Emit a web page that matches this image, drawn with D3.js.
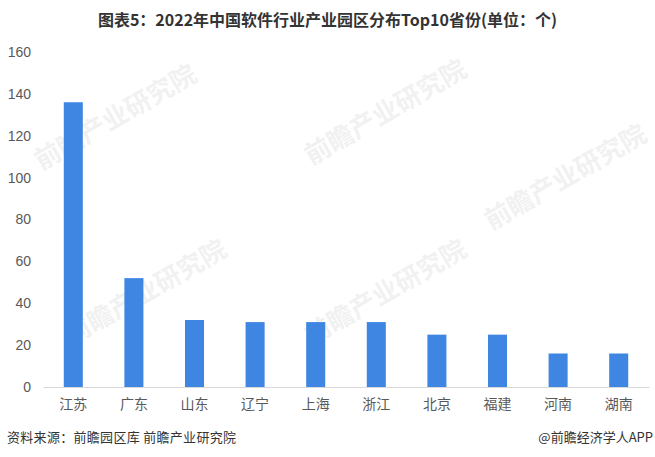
<html>
<head>
  <meta charset="utf-8">
  <title>软件产业园区分布</title>
</head>
<style>
  body {
    padding: 0em;
    margin: 0em;
    background-color: #fff;
  }
  text {
    font-family: "Noto Sans CJK SC", "Liberation Sans", sans-serif;
  }
</style>
<body>
  <div id="chart"></div>
</body>
<script src="https://cdn.jsdelivr.net/npm/d3@7"></script>
<script>
  // 省份 / 园区数量（个）
  const provinces = ["江苏", "广东", "山东", "辽宁", "上海", "浙江", "北京", "福建", "河南", "湖南"]
  const parks = [136, 52, 32, 31, 31, 31, 25, 25, 16, 16]
  const yTicks = [0, 20, 40, 60, 80, 100, 120, 140, 160]

  const width = 655
  const height = 457
  const svg = d3.select("#chart").append("svg")
    .attr("width", width)
    .attr("height", height)

  const x = d3.scaleBand()
    .domain(provinces)
    .range([43, 649])
    .paddingInner(0.686)
    .paddingOuter(0.343)

  const y = d3.scaleLinear()
    .domain([0, 160])
    .range([387, 52])

  // 水印（うすい）
  const marks = [[120, 125], [390, 120], [570, 185], [150, 300], [390, 300]]
  svg.selectAll("text.wm").data(marks).join("text")
    .attr("class", "wm")
    .attr("transform", d => `translate(${d[0]},${d[1]}) rotate(-30)`)
    .attr("text-anchor", "middle")
    .attr("fill", "#000")
    .attr("opacity", 0.05)
    .attr("style", "font-size: 26px; font-weight: bold")
    .text("前瞻产业研究院")

  //タイトル
  svg.append("text")
    .attr("x", width / 2)
    .attr("y", 26)
    .attr("text-anchor", "middle")
    .attr("fill", "#333")
    .attr("style", "font-size: 16px; font-weight: bold")
    .text("图表5：2022年中国软件行业产业园区分布Top10省份(单位：个)")

  // y軸
  const yAxis = svg.append("g")
    .attr("transform", "translate(36,0)")
    .call(d3.axisLeft(y).tickValues(yTicks).tickSize(0).tickPadding(5))
  yAxis.select(".domain").remove()
  yAxis.selectAll("text")
    .attr("fill", "#595959")
    .attr("style", "font-size: 14px; font-family: 'Liberation Sans', Arial, sans-serif")

  // bars
  svg.selectAll("rect.bar").data(parks).join("rect")
    .attr("class", "bar")
    .attr("x", (d, i) => x(provinces[i]))
    .attr("y", d => y(d))
    .attr("width", x.bandwidth())
    .attr("height", d => y(0) - y(d))
    .attr("fill", "#3f86e2")

  // x軸
  const xAxis = svg.append("g")
    .attr("transform", `translate(0,${y(0)})`)
    .call(d3.axisBottom(x).tickSize(0).tickPadding(12))
  xAxis.select(".domain").attr("stroke", "#d9d9d9").attr("stroke-width", 1.2)
  xAxis.selectAll("text")
    .attr("fill", "#595959")
    .attr("style", "font-size: 14px")

  // 出典
  svg.append("text")
    .attr("x", 7)
    .attr("y", 442)
    .attr("fill", "#333")
    .attr("style", "font-size: 13px; letter-spacing: 0.3px")
    .text("资料来源：前瞻园区库 前瞻产业研究院")

  svg.append("text")
    .attr("x", 653)
    .attr("y", 442)
    .attr("text-anchor", "end")
    .attr("fill", "#333")
    .attr("style", "font-size: 13px")
    .text("@前瞻经济学人APP")
</script>
</html>
